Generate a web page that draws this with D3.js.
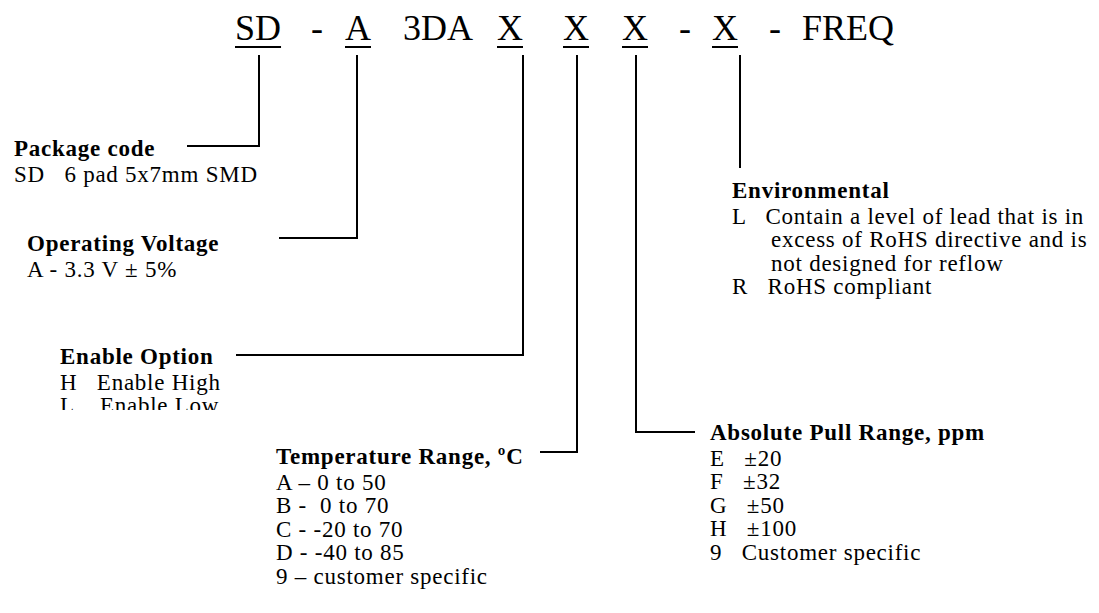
<!DOCTYPE html>
<html>
<head>
<meta charset="utf-8">
<script src="https://cdn.jsdelivr.net/npm/d3@7"></script>
<style>
  body { margin: 0; background: #fff; }
  text { font-family: "Liberation Serif", "Times New Roman", serif; fill: #000; white-space: pre; }
</style>
</head>
<body>
<svg width="1099" height="613"></svg>
<script>
// part number tokens across the top
var codeTokens = ["SD", "-", "A", "3DA", "X", "X", "X", "-", "X", "-", "FREQ"];
var codeUnderlined = [true, false, true, false, true, true, true, false, true, false, false];

// one block per underlined token
var sectionTitles = ["Package code", "Operating Voltage", "Enable Option",
                     "Temperature Range, \u00baC", "Absolute Pull Range, ppm", "Environmental"];
var sectionToken = [0, 2, 4, 5, 6, 8];
var packageItems = ["SD   6 pad 5x7mm SMD"];
var voltageItems = ["A - 3.3 V \u00b1 5%"];
var enableItems = ["H   Enable High", "L    Enable Low"];
var tempItems = ["A \u2013 0 to 50", "B -  0 to 70", "C - -20 to 70", "D - -40 to 85", "9 \u2013 customer specific"];
var pullItems = ["E   \u00b120", "F   \u00b132", "G   \u00b150", "H   \u00b1100", "9   Customer specific"];
var envItems = ["L   Contain a level of lead that is in", "      excess of RoHS directive and is",
                "      not designed for reflow", "R   RoHS compliant"];
var sectionItems = [packageItems, voltageItems, enableItems, tempItems, pullItems, envItems];

// layout
var tokenX = [235, 311, 345, 403, 497, 563, 622, 679, 712, 769, 802];
var headBase = 40, headSize = 36, underY = 47, stemTop = 55;
var blockX   = [14, 27, 60, 276, 710, 732];
var blockY   = [156, 251, 364, 464, 440, 198];  // title baseline
var elbowY   = [146, 238, 355, 452, 432, 168];
var armFrom  = [187, 279, 236, 540, 695, null];
var stemDx   = [24, 12, 26, 14, 14, 28];          // stem x from token left edge
var firstGap = 25.5, lineGap = 23.5, bodySize = 23, tracking = 0.75;
var clipBottom = 410;

var svg = d3.select("svg");
var x = d3.scaleOrdinal().domain(d3.range(codeTokens.length)).range(tokenX);

var head = svg.append("g");
head.selectAll("text").data(codeTokens).enter().append("text")
    .attr("x", function(d, i) { return x(i); })
    .attr("y", headBase)
    .style("font-size", headSize + "px")
    .text(function(d) { return d; });

head.selectAll("text").each(function(d, i) {
  if (!codeUnderlined[i]) return;
  var w = this.getComputedTextLength();
  head.append("line")
      .attr("x1", x(i)).attr("x2", x(i) + w)
      .attr("y1", underY).attr("y2", underY)
      .attr("stroke", "#000").attr("stroke-width", 2);
});

svg.append("defs").append("clipPath").attr("id", "cut")
  .append("rect").attr("x", 0).attr("y", 0).attr("width", 1099).attr("height", clipBottom);

sectionTitles.forEach(function(title, s) {
  var g = svg.append("g");
  if (s === 2) g.attr("clip-path", "url(#cut)");
  g.append("text")
      .attr("x", blockX[s]).attr("y", blockY[s])
      .style("font-size", bodySize + "px").style("font-weight", "bold")
      .style("letter-spacing", tracking + "px")
      .text(title);
  g.selectAll("text.item").data(sectionItems[s]).enter().append("text")
      .attr("class", "item")
      .attr("x", blockX[s])
      .attr("y", function(d, i) { return blockY[s] + firstGap + lineGap * i; })
      .style("font-size", bodySize + "px")
      .style("letter-spacing", tracking + "px")
      .text(function(d) { return d; });

  var sx = x(sectionToken[s]) + stemDx[s];
  var path = d3.path();
  if (armFrom[s] !== null) {
    path.moveTo(armFrom[s], elbowY[s]);
    path.lineTo(sx, elbowY[s]);
    path.lineTo(sx, stemTop);
  } else {
    path.moveTo(sx, elbowY[s]);
    path.lineTo(sx, stemTop);
  }
  svg.append("path").attr("d", path.toString())
      .attr("fill", "none").attr("stroke", "#000").attr("stroke-width", 2);
});
</script>
</body>
</html>
